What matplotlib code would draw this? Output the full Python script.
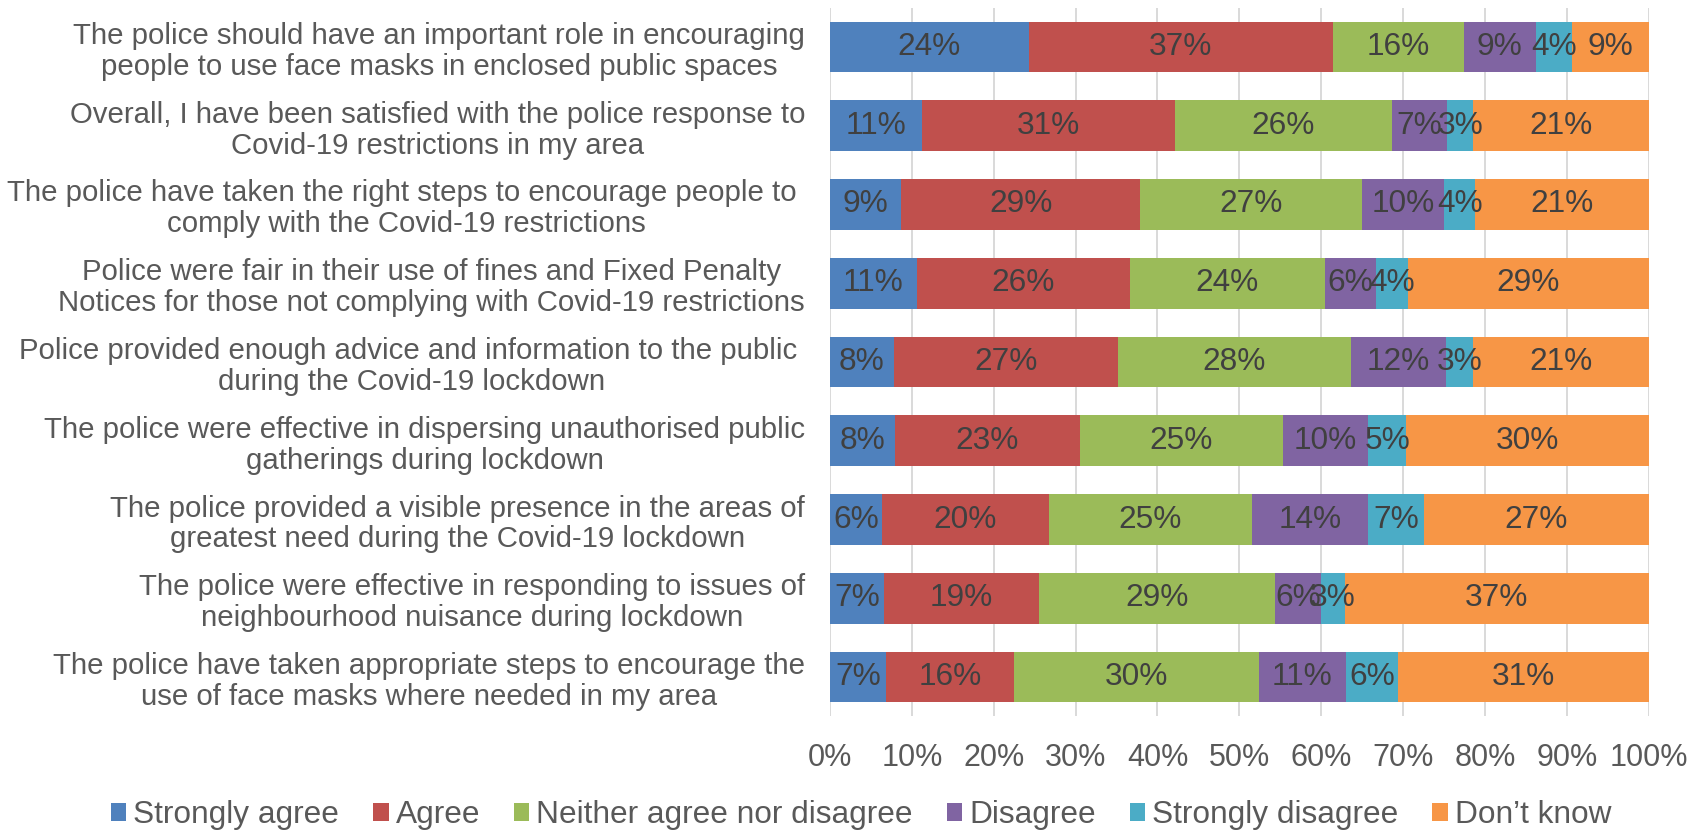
import matplotlib
matplotlib.use("Agg")
import matplotlib.pyplot as plt
import numpy as np
from matplotlib.ticker import FuncFormatter

plt.rcParams["font.family"] = ["Liberation Sans", "DejaVu Sans"]

statements = [
    "The police should have an important role in encouraging\npeople to use face masks in enclosed public spaces",
    "Overall, I have been satisfied with the police response to\nCovid-19 restrictions in my area",
    "The police have taken the right steps to encourage people to \ncomply with the Covid-19 restrictions",
    "Police were fair in their use of fines and Fixed Penalty\nNotices for those not complying with Covid-19 restrictions",
    "Police provided enough advice and information to the public \nduring the Covid-19 lockdown",
    "The police were effective in dispersing unauthorised public\ngatherings during lockdown",
    "The police provided a visible presence in the areas of\ngreatest need during the Covid-19 lockdown",
    "The police were effective in responding to issues of\nneighbourhood nuisance during lockdown",
    "The police have taken appropriate steps to encourage the\nuse of face masks where needed in my area",
]

responses = ["Strongly agree", "Agree", "Neither agree nor disagree",
             "Disagree", "Strongly disagree", "Don\u2019t know"]

strongly_agree = [24.3, 11.2, 8.7, 10.6, 7.8, 7.9, 6.3, 6.6, 6.8]
agree = [37.1, 31.0, 29.2, 26.0, 27.4, 22.6, 20.4, 18.9, 15.7]
neither = [16.0, 26.4, 27.1, 23.9, 28.4, 24.8, 24.8, 28.9, 29.9]
disagree = [8.8, 6.8, 10.0, 6.2, 11.6, 10.4, 14.2, 5.6, 10.6]
strongly_disagree = [4.4, 3.2, 3.8, 3.9, 3.4, 4.7, 6.9, 2.9, 6.4]
dont_know = [9.4, 21.4, 21.2, 29.4, 21.4, 29.6, 27.4, 37.1, 30.6]

colors = ["#4F81BD", "#C0504D", "#9BBB59", "#8064A2", "#4BACC6", "#F79646"]

series = np.array([strongly_agree, agree, neither, disagree,
                   strongly_disagree, dont_know], dtype=float)
# 100% stacked: scale each statement so its answers fill the bar
shares = series / series.sum(axis=0) * 100

fig = plt.figure(figsize=(17.03, 8.31), dpi=100)
ax = fig.add_axes([830 / 1703, 1 - 716.4 / 831, 818.7 / 1703, 708.8 / 831])

y = np.arange(len(statements))
left = np.zeros(len(statements))
handles = []
for name, vals, raw, col in zip(responses, shares, series, colors):
    bars = ax.barh(y, vals, left=left, height=0.644, color=col,
                   label=name, zorder=3)
    ax.bar_label(bars, labels=[f"{round(v):.0f}%" for v in raw],
                 label_type="center", fontsize=22.8, color="#404040",
                 zorder=4)
    handles.append(bars)
    left += vals

ax.set_xlim(0, 100)
ax.set_ylim(len(statements) - 0.5, -0.5)
ax.set_xticks(np.arange(0, 101, 10))
ax.xaxis.set_major_formatter(FuncFormatter(lambda v, _: f"{v:.0f}%"))
ax.grid(axis="x", color="#D9D9D9", linewidth=1.4, zorder=0)
ax.set_axisbelow(True)

for side in ("top", "right", "bottom", "left"):
    ax.spines[side].set_visible(False)

ax.set_yticks(y)
ax.set_yticklabels(statements, fontsize=21.2, color="#595959",
                   multialignment="center", linespacing=1.13)
ax.tick_params(axis="y", length=0, pad=18)
ax.tick_params(axis="x", length=0, pad=19.5, labelsize=22, labelcolor="#595959")

fig.legend(handles, responses, loc="center",
           bbox_to_anchor=(861 / 1703, 1 - 815 / 831), ncol=6,
           frameon=False, fontsize=22.8, handlelength=0.5, handleheight=0.5,
           handletextpad=0.22, columnspacing=1.06, labelcolor="#595959",
           borderpad=0, borderaxespad=0)

fig.savefig("out.png", dpi=100)
